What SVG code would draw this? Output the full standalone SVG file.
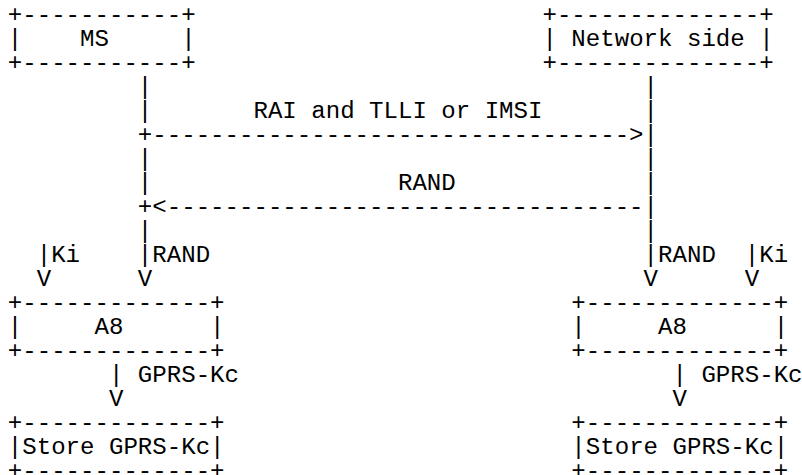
<svg xmlns="http://www.w3.org/2000/svg" width="802" height="475" viewBox="0 0 802 475" xml:space="preserve">
<style>
text{font-family:"Liberation Mono","DejaVu Sans Mono",monospace;font-size:24.08px;fill:#000;white-space:pre}
</style>
<rect width="802" height="475" fill="#fff"/>
<g id="ms">
<text x="7.8" y="22">+-----------+</text>
<text x="7.8" y="46">|    MS     |</text>
<text x="7.8" y="70">+-----------+</text>
</g>
<g id="network-side">
<text x="542.45" y="22">+--------------+</text>
<text x="542.45" y="46">| Network side |</text>
<text x="542.45" y="70">+--------------+</text>
</g>
<g id="a8-ms">
<text x="7.8" y="310">+-------------+</text>
<text x="7.8" y="334">|     A8      |</text>
<text x="7.8" y="358">+-------------+</text>
</g>
<g id="a8-net">
<text x="571.35" y="310">+-------------+</text>
<text x="571.35" y="334">|     A8      |</text>
<text x="571.35" y="358">+-------------+</text>
</g>
<g id="store-ms">
<text x="7.8" y="430">+-------------+</text>
<text x="7.8" y="454">|Store GPRS-Kc|</text>
<text x="7.8" y="478">+-------------+</text>
</g>
<g id="store-net">
<text x="571.35" y="430">+-------------+</text>
<text x="571.35" y="454">|Store GPRS-Kc|</text>
<text x="571.35" y="478">+-------------+</text>
</g>
<g id="connectors">
<text x="137.85" y="94">|</text>
<text x="137.85" y="118">|</text>
<text x="137.85" y="142">+---------------------------------&gt;</text>
<text x="137.85" y="166">|</text>
<text x="137.85" y="190">|</text>
<text x="137.85" y="214">+&lt;---------------------------------</text>
<text x="137.85" y="238">|</text>
<text x="137.85" y="262">|RAND</text>
<text x="137.85" y="286">V</text>
<text x="643.6" y="94">|</text>
<text x="643.6" y="118">|</text>
<text x="643.6" y="142">|</text>
<text x="643.6" y="166">|</text>
<text x="643.6" y="190">|</text>
<text x="643.6" y="214">|</text>
<text x="643.6" y="238">|</text>
<text x="643.6" y="262">|RAND</text>
<text x="643.6" y="286">V</text>
<text x="36.7" y="262">|Ki</text>
<text x="36.7" y="286">V</text>
<text x="744.75" y="262">|Ki</text>
<text x="744.75" y="286">V</text>
<text x="108.95" y="382">| GPRS-Kc</text>
<text x="108.95" y="406">V</text>
<text x="672.5" y="382">| GPRS-Kc</text>
<text x="672.5" y="406">V</text>
<text x="253.45" y="118">RAI and TLLI or IMSI</text>
<text x="397.95" y="190">RAND</text>
</g>
</svg>
